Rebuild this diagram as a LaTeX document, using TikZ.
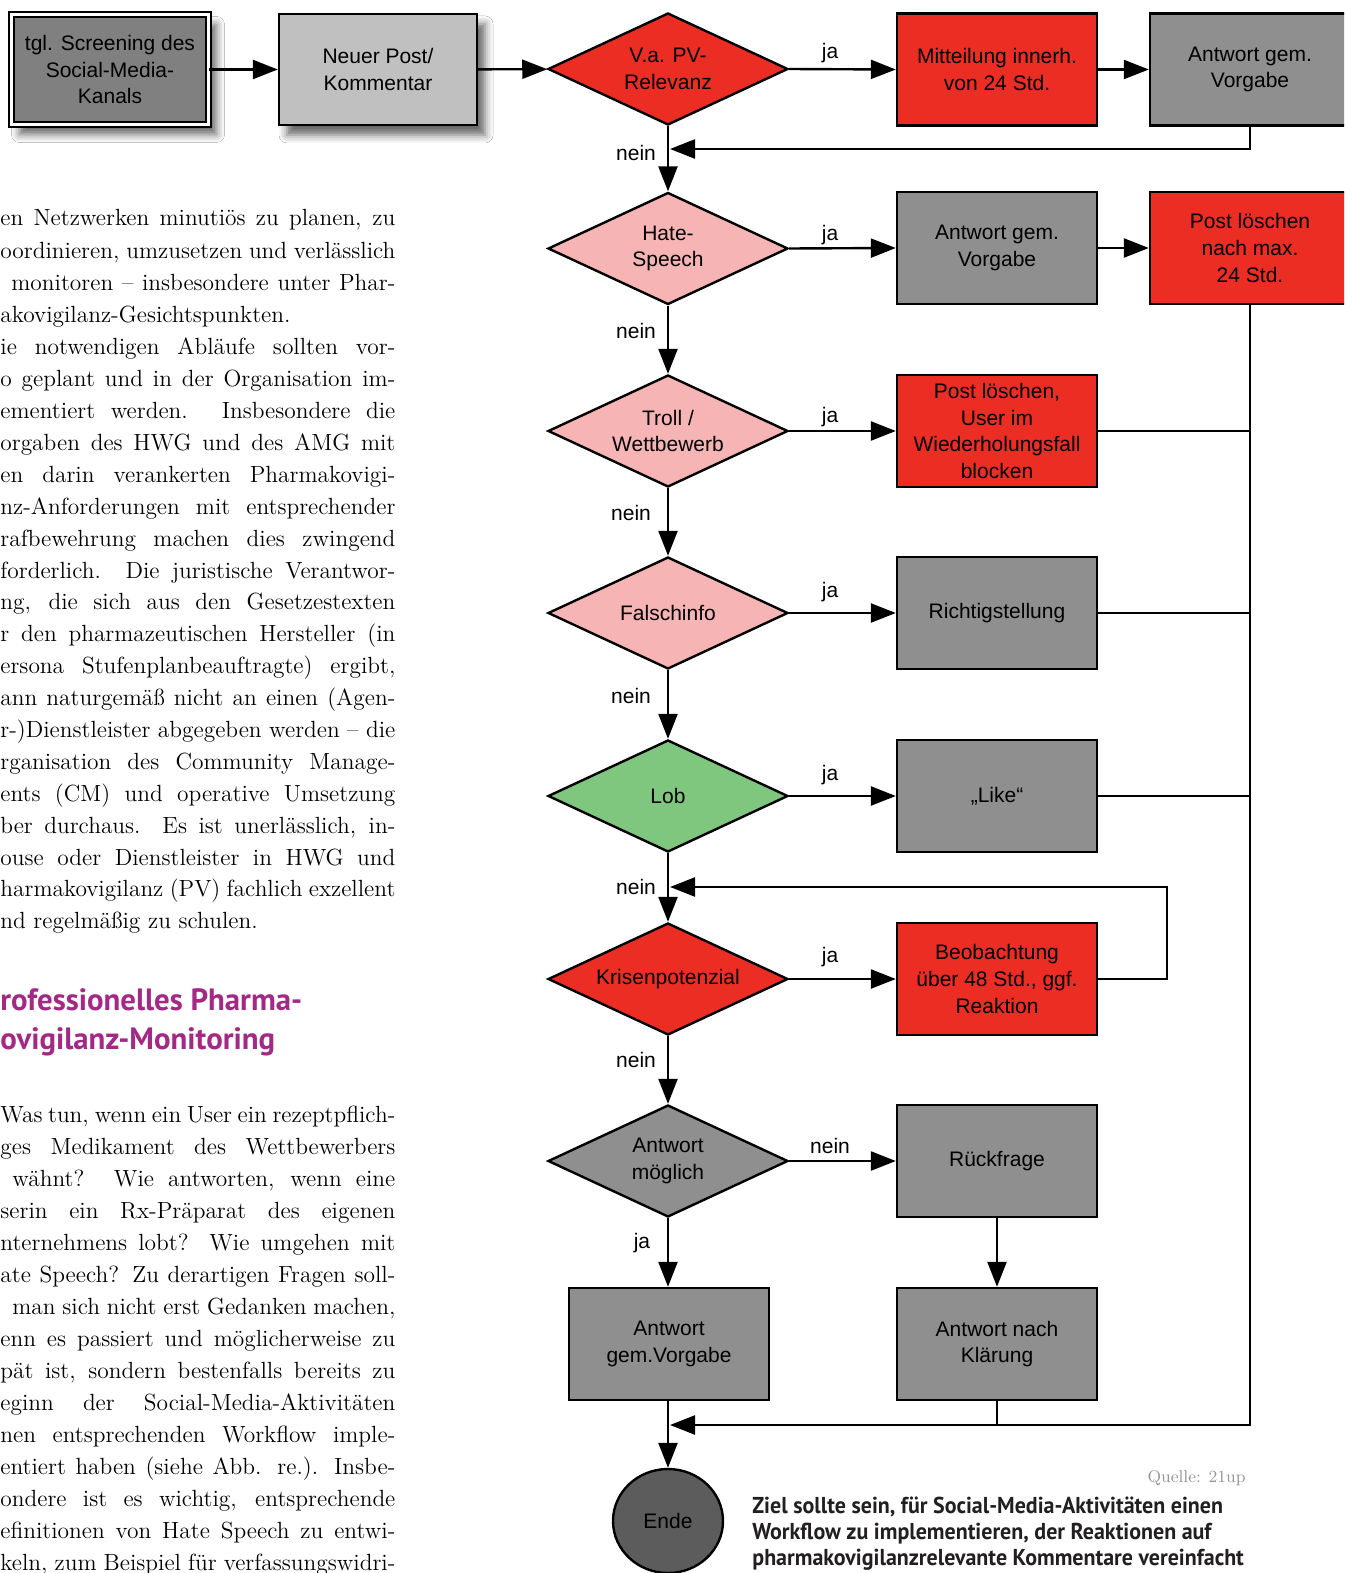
\documentclass[tikz,border=0pt]{standalone}
\usepackage{graphicx}
\usepackage{fontspec}
\newfontfamily\diafont{Liberation Sans}
\newfontfamily\headfont{PT Sans}
\usetikzlibrary{shapes.geometric,arrows.meta,shadows.blur}
\definecolor{cred}{RGB}{236,45,36}
\definecolor{cgray}{RGB}{143,143,143}
\definecolor{cdark}{RGB}{128,128,128}
\definecolor{clight}{RGB}{192,192,192}
\definecolor{cpink}{RGB}{246,180,180}
\definecolor{cgreen}{RGB}{127,198,127}
\definecolor{cende}{RGB}{92,92,92}
\definecolor{cmag}{RGB}{164,40,134}
\definecolor{ccap}{RGB}{35,31,32}
\definecolor{cquelle}{RGB}{150,150,150}
\newcommand{\jl}[5]{\node[body,name=#1] at (#2,#3) {\makebox[#4pt][s]{#5}};}
\newcommand{\fl}[4]{\node[body,name=#1] at (#2,#3) {#4};}
\begin{document}
\begin{tikzpicture}[x=0.5pt,y=-0.5pt,
  lw/.style={line width=1.2pt},
  arr/.style={lw,-{Triangle[length=12.5pt,width=9.5pt]}},
  dfont/.style={font=\diafont\fontsize{10.5}{13.3}\selectfont},
  box/.style={rectangle,draw=black,lw,minimum width=100pt,minimum height=56pt,align=center,dfont,inner sep=2pt},
  dia/.style={diamond,aspect=2.14,draw=black,lw,minimum width=120pt,minimum height=56pt,align=center,dfont,inner sep=0pt},
  lab/.style={dfont,inner sep=0pt},
  body/.style={anchor=base west,inner sep=0pt,font=\fontsize{11.7}{16}\selectfont},
  capt/.style={anchor=base west,inner sep=0pt,text=ccap,font=\headfont\bfseries\fontsize{11.5}{13}\selectfont},
  head/.style={anchor=base west,inner sep=0pt,text=cmag,font=\headfont\bfseries\fontsize{15.4}{20}\selectfont},
  shad/.style={blur shadow={shadow xshift=4pt,shadow yshift=-5pt,shadow blur radius=4pt,shadow opacity=60}},
]
\useasboundingbox (0,0) rectangle (1344,1573);
\fill[white] (0,0) rectangle (1344,1573);
\begin{scope}
\clip (0,0) rectangle (1344,1573);

% ---------- article text ----------
\jl{L1}{0}{226}{197.5}{en Netzwerken minutiös zu planen, zu}
\jl{L2}{0}{258}{197.5}{oordinieren, umzusetzen und verlässlich}
\jl{L3}{11}{290}{192}{monitoren – insbesondere unter Phar-}
\fl{L4}{0}{322}{akovigilanz-Gesichtspunkten.}
\jl{L5}{0}{354}{197.5}{ie notwendigen Abläufe sollten vor-}
\jl{L6}{0}{386}{197.5}{o geplant und in der Organisation im-}
\jl{L7}{0}{418}{197.5}{ementiert werden. Insbesondere die}
\jl{L8}{0}{450}{197.5}{orgaben des HWG und des AMG mit}
\jl{L9}{0}{482}{197.5}{en darin verankerten Pharmakovigi-}
\jl{L10}{0}{514}{197.5}{nz-Anforderungen mit entsprechender}
\jl{L11}{0}{546}{197.5}{rafbewehrung machen dies zwingend}
\jl{L12}{0}{578}{197.5}{forderlich. Die juristische Verantwor-}
\jl{L13}{0}{609}{197.5}{ng, die sich aus den Gesetzestexten}
\jl{L14}{0}{641}{197.5}{r den pharmazeutischen Hersteller (in}
\jl{L15}{0}{673}{197.5}{ersona Stufenplanbeauftragte) ergibt,}
\jl{L16}{0}{705}{197.5}{ann naturgemäß nicht an einen (Agen-}
\jl{L17}{0}{737}{197.5}{r-)Dienstleister abgegeben werden – die}
\jl{L18}{0}{769}{197.5}{rganisation des Community Manage-}
\jl{L19}{0}{801}{197.5}{ents (CM) und operative Umsetzung}
\jl{L20}{0}{833}{197.5}{ber durchaus. Es ist unerlässlich, in-}
\jl{L21}{0}{865}{197.5}{ouse oder Dienstleister in HWG und}
\jl{L22}{0}{896}{197.5}{harmakovigilanz (PV) fachlich exzellent}
\fl{L23}{0}{928}{nd regelmäßig zu schulen.}

\node[head] (H1) at (0,1010) {rofessionelles Pharma-};
\node[head] (H2) at (0,1049) {ovigilanz-Monitoring};

\jl{M1}{0}{1122}{197.5}{Was tun, wenn ein User ein rezeptpflich-}
\jl{M2}{0}{1154}{197.5}{ges Medikament des Wettbewerbers}
\jl{M3}{12}{1186}{191.5}{wähnt? Wie antworten, wenn eine}
\jl{M4}{0}{1218}{197.5}{serin ein Rx-Präparat des eigenen}
\jl{M5}{0}{1250}{197.5}{nternehmens lobt? Wie umgehen mit}
\jl{M6}{0}{1282}{197.5}{ate Speech? Zu derartigen Fragen soll-}
\jl{M7}{12}{1314}{191.5}{man sich nicht erst Gedanken machen,}
\jl{M8}{0}{1346}{197.5}{enn es passiert und möglicherweise zu}
\jl{M9}{0}{1378}{197.5}{pät ist, sondern bestenfalls bereits zu}
\jl{M10}{0}{1410}{197.5}{eginn der Social-Media-Aktivitäten}
\jl{M11}{0}{1442}{197.5}{nen entsprechenden Workflow imple-}
\jl{M12}{0}{1474}{197.5}{entiert haben (siehe Abb. re.). Insbe-}
\jl{M13}{0}{1506}{197.5}{ondere ist es wichtig, entsprechende}
\jl{M14}{0}{1538}{197.5}{efinitionen von Hate Speech zu entwi-}
\jl{M15}{0}{1570}{197.5}{keln, zum Beispiel für verfassungswidri-}

% ---------- flowchart nodes ----------
\node[box,fill=cdark,shad,line width=0.9pt,double=white,double distance=1.6pt,minimum width=98.5pt,minimum height=55pt] (scr) at (110,69.5) {tgl. Screening des\\Social-Media-\\Kanals};
\node[box,fill=clight,shad,minimum width=99pt,minimum height=55.5pt] (neu) at (378,69.5) {Neuer Post/\\Kommentar};

\node[dia,fill=cred] (d1) at (668,69) {V.a. PV-\\Relevanz};
\node[box,fill=cred] (mit) at (997,69.5) {Mitteilung innerh.\\von 24 Std.};
\node[box,fill=cgray] (ant1) at (1250,69.5) {Antwort gem.\\Vorgabe};

\node[dia,fill=cpink] (d2) at (668,248.5) {Hate-\\Speech};
\node[box,fill=cgray] (ant2) at (997,248) {Antwort gem.\\Vorgabe};
\node[box,fill=cred] (post) at (1250,248) {Post löschen\\nach max.\\24 Std.};

\node[dia,fill=cpink] (d3) at (668,431) {Troll /\\Wettbewerb};
\node[box,fill=cred] (troll) at (997,431) {Post löschen,\\User im\\Wiederholungsfall\\blocken};

\node[dia,fill=cpink] (d4) at (668,613) {Falschinfo};
\node[box,fill=cgray] (richt) at (997,613) {Richtigstellung};

\node[dia,fill=cgreen] (d5) at (668,796) {Lob};
\node[box,fill=cgray] (like) at (997,796) {„Like“};

\node[dia,fill=cred] (d6) at (668,979) {Krisenpotenzial};
\node[box,fill=cred] (beob) at (997,979) {Beobachtung\\über 48 Std., ggf.\\Reaktion};

\node[dia,fill=cgray] (d7) at (668,1161) {Antwort\\möglich};
\node[box,fill=cgray] (rueck) at (997,1161) {Rückfrage};

\node[box,fill=cgray] (gem) at (669,1344) {Antwort\\gem.Vorgabe};
\node[box,fill=cgray] (klar) at (997,1344) {Antwort nach\\Klärung};

\node[ellipse,draw=black,lw,fill=cende,minimum width=55pt,minimum height=52pt,dfont,inner sep=0pt] (ende) at (668,1521) {Ende};

% ---------- connectors ----------
\draw[arr] (scr) -- (neu);
\draw[arr] (neu) -- (d1);
\draw[arr] (d1.east) -- (mit.west);
\draw[arr] (mit) -- (ant1);
\draw[arr] (d1.south) -- (d2.north);
\draw[arr] (d2.east) -- (ant2.west);
\draw[arr] (ant2) -- (post);
\draw[arr] (d2.south) -- (d3.north);
\draw[arr] (d3.east) -- (troll.west);
\draw[arr] (d3.south) -- (d4.north);
\draw[arr] (d4.east) -- (richt.west);
\draw[arr] (d4.south) -- (d5.north);
\draw[arr] (d5.east) -- (like.west);
\draw[arr] (d5.south) -- (d6.north);
\draw[arr] (d6.east) -- (beob.west);
\draw[arr] (d6.south) -- (d7.north);
\draw[arr] (d7.east) -- (rueck.west);
\draw[arr] (d7.south) -- (d7.south |- gem.north);
\draw[arr] (rueck) -- (klar);
\draw[arr] (gem.south -| ende.north) -- (ende.north);

\coordinate (c1) at (1250,149);
\coordinate (j1) at (670,149);
\draw[arr] (ant1.south) -- (c1) -- (j1);

\coordinate (c6) at (1167,887);
\coordinate (j6) at (670,887);
\draw[arr] (beob.east) -| (c6) -- (j6);

\coordinate (c8) at (1250,1425);
\coordinate (j8) at (670,1425);
\draw[arr] (post.south) -- (c8) -- (j8);
\draw[lw] (troll.east) -- (troll.east -| c8);
\draw[lw] (richt.east) -- (richt.east -| c8);
\draw[lw] (like.east) -- (like.east -| c8);
\draw[lw] (klar.south) -- (klar.south |- c8);

% ---------- labels ----------
\node[lab] (ja1) at (830,53) {ja};
\node[lab] (ja2) at (830,235) {ja};
\node[lab] (ja3) at (830,417) {ja};
\node[lab] (ja4) at (830,592) {ja};
\node[lab] (ja5) at (830,775) {ja};
\node[lab] (ja6) at (830,957) {ja};
\node[lab] (nein7) at (830,1146) {nein};
\node[lab] (n1) at (636,153) {nein};
\node[lab] (n2) at (636,331) {nein};
\node[lab] (n3) at (631,513) {nein};
\node[lab] (n4) at (631,696) {nein};
\node[lab] (n5) at (636,887) {nein};
\node[lab] (n6) at (636,1060) {nein};
\node[lab] (ja7) at (642,1243) {ja};

% ---------- caption ----------
\node[anchor=base east,inner sep=0pt,text=cquelle,font=\fontsize{8.5}{10}\selectfont] (q) at (1246,1482) {Quelle: 21up};
\node[capt] (cap1) at (752,1513) {\scalebox{0.955}[1]{Ziel sollte sein, für Social-Media-Aktivitäten einen}};
\node[capt] (cap2) at (752,1539) {\scalebox{0.955}[1]{Workflow zu implementieren, der Reaktionen auf}};
\node[capt] (cap3) at (752,1565) {\scalebox{0.955}[1]{pharmakovigilanzrelevante Kommentare vereinfacht}};
\end{scope}
\end{tikzpicture}
\end{document}
